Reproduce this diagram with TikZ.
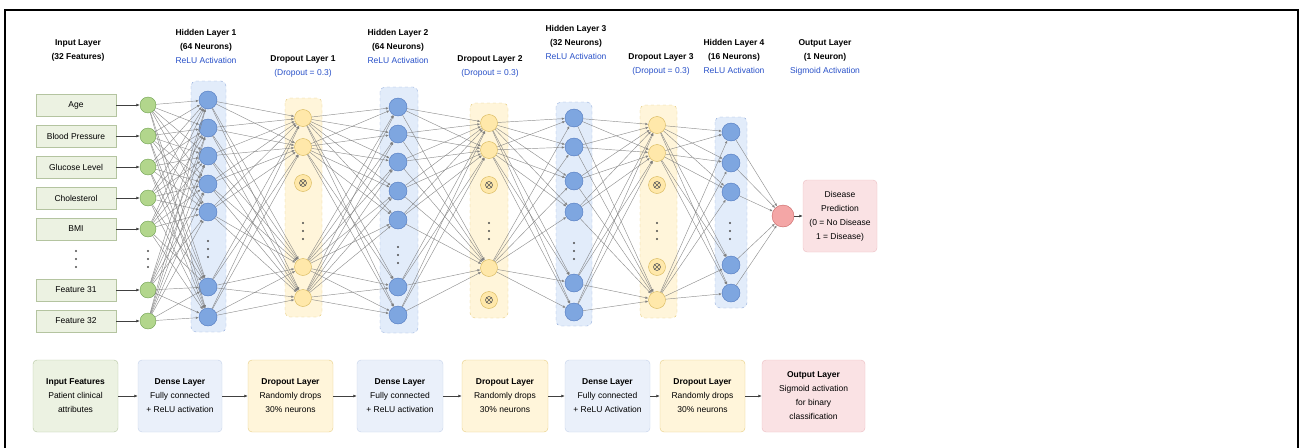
\documentclass[tikz,border=0pt]{standalone}
\usepackage{fontspec}
\setmainfont{Liberation Sans}
\usetikzlibrary{arrows.meta}
\definecolor{infill}{RGB}{236,242,226}
\definecolor{inedge}{RGB}{180,196,160}
\definecolor{gfill}{RGB}{178,214,140}
\definecolor{gedge}{RGB}{110,160,80}
\definecolor{bfill}{RGB}{126,166,224}
\definecolor{bedge}{RGB}{80,120,190}
\definecolor{bbg}{RGB}{226,236,250}
\definecolor{bbgedge}{RGB}{150,175,220}
\definecolor{yfill}{RGB}{255,232,170}
\definecolor{yedge}{RGB}{214,182,86}
\definecolor{ybg}{RGB}{255,245,218}
\definecolor{ybgedge}{RGB}{230,205,130}
\definecolor{pfill}{RGB}{244,166,166}
\definecolor{pedge}{RGB}{200,100,100}
\definecolor{pbox}{RGB}{250,226,228}
\definecolor{pboxedge}{RGB}{236,190,194}
\definecolor{dfill}{RGB}{234,240,250}
\definecolor{dedge}{RGB}{196,210,234}
\definecolor{actblue}{RGB}{40,80,200}
\definecolor{wire}{RGB}{125,125,125}
\newcommand{\colldots}[2]{\foreach \k in {-8,0,8} \fill[black!70] (#1,#2+\k) circle (1.2);}

\begin{document}
\begin{tikzpicture}[x=1pt,y=-1pt,font=\fontsize{8.5}{14}\selectfont]
		\useasboundingbox (0,0) rectangle (1303,447);
		\draw[line width=2pt] (5,470) -- (5,10) -- (1298,10) -- (1298,470);
		\tikzstyle{ftbox}=[draw=inedge,fill=infill,minimum width=80pt,minimum height=22pt,inner sep=0pt]
		\tikzstyle{gneuron}=[circle,draw=gedge,fill=gfill,minimum size=16pt,inner sep=0pt]
		\tikzstyle{bneuron}=[circle,draw=bedge,fill=bfill,minimum size=18pt,inner sep=0pt]
		\tikzstyle{yneuron}=[circle,draw=yedge,fill=yfill,minimum size=17pt,inner sep=0pt]
		\tikzstyle{yxneuron}=[yneuron,path picture={\draw[black!65,line width=0.6pt] (path picture bounding box.center) circle (3.5pt) +(-2.2pt,-2.2pt) -- +(2.2pt,2.2pt) +(-2.2pt,2.2pt) -- +(2.2pt,-2.2pt);}]
		\tikzstyle{hidbg}=[draw=bbgedge,fill=bbg,dashed,rounded corners=5pt]
		\tikzstyle{dropbg}=[draw=ybgedge,fill=ybg,dashed,rounded corners=5pt]
		\tikzstyle{wirearrow}=[draw=wire,line width=0.45pt,opacity=0.85,-{Latex[length=3pt,width=2.6pt]}]
		\tikzstyle{feedarrow}=[draw=black!75,line width=0.7pt,-{Latex[length=3.5pt,width=3pt]}]
		\tikzstyle{stagebox}=[rounded corners=4pt,minimum height=72pt,align=center,inner sep=0pt]
		% layer titles
		\node[align=center] (tl-in) at (78,50) {\textbf{Input Layer}\\\textbf{(32 Features)}};
		\node[align=center] (tl-ha) at (206,46) {\textbf{Hidden Layer 1}\\\textbf{(64 Neurons)}\\\textcolor{actblue}{ReLU Activation}};
		\node[align=center] (tl-da) at (303,66) {\textbf{Dropout Layer 1}\\\textcolor{actblue}{(Dropout = 0.3)}};
		\node[align=center] (tl-hb) at (398,46) {\textbf{Hidden Layer 2}\\\textbf{(64 Neurons)}\\\textcolor{actblue}{ReLU Activation}};
		\node[align=center] (tl-db) at (490,66) {\textbf{Dropout Layer 2}\\\textcolor{actblue}{(Dropout = 0.3)}};
		\node[align=center] (tl-hc) at (576,42) {\textbf{Hidden Layer 3}\\\textbf{(32 Neurons)}\\\textcolor{actblue}{ReLU Activation}};
		\node[align=center] (tl-dc) at (661,64) {\textbf{Dropout Layer 3}\\\textcolor{actblue}{(Dropout = 0.3)}};
		\node[align=center] (tl-hd) at (734,56) {\textbf{Hidden Layer 4}\\\textbf{(16 Neurons)}\\\textcolor{actblue}{ReLU Activation}};
		\node[align=center] (tl-o) at (825,57) {\textbf{Output Layer}\\\textbf{(1 Neuron)}\\\textcolor{actblue}{Sigmoid Activation}};
		% layer backgrounds
		\draw[hidbg] (191,81) rectangle (226,332);
		\draw[dropbg] (285,98) rectangle (322,317);
		\draw[hidbg] (380,87) rectangle (418,333);
		\draw[dropbg] (470,103) rectangle (508,318);
		\draw[hidbg] (556,102) rectangle (592,326);
		\draw[dropbg] (640,105) rectangle (677,318);
		\draw[hidbg] (715,117) rectangle (747,308);
		% input features
		\foreach \y/\t [count=\i] in {105/Age,136/Blood Pressure,167/Glucose Level,198/Cholesterol,229/BMI,290/Feature 31,321/Feature 32}{
			\node[ftbox] (in-\i) at (76,\y) {\t};
			\node[gneuron] (g-\i) at (148,\y) {};
			\draw[feedarrow] (in-\i) -- (g-\i);
		}
		% neurons
		\foreach \y [count=\i] in {100,128,156,184,212,287,317}
			\node[bneuron] (ha-\i) at (208,\y) {};
		\foreach \y/\s [count=\i] in {118/yneuron,147/yneuron,183/yxneuron,267/yneuron,298/yneuron}
			\node[\s] (da-\i) at (303,\y) {};
		\foreach \y [count=\i] in {107,134,162,191,220,287,315}
			\node[bneuron] (hb-\i) at (398,\y) {};
		\foreach \y/\s [count=\i] in {123/yneuron,150/yneuron,185/yxneuron,268/yneuron,300/yxneuron}
			\node[\s] (db-\i) at (489,\y) {};
		\foreach \y [count=\i] in {118,147,181,212,283,312}
			\node[bneuron] (hc-\i) at (574,\y) {};
		\foreach \y/\s [count=\i] in {125/yneuron,153/yneuron,185/yxneuron,267/yxneuron,300/yneuron}
			\node[\s] (dc-\i) at (657,\y) {};
		\foreach \y [count=\i] in {132,163,192,265,293}
			\node[bneuron] (hd-\i) at (731,\y) {};
		\node[circle,draw=pedge,fill=pfill,minimum size=22pt,inner sep=0pt] (o) at (783,216) {};
		\node[draw=pboxedge,fill=pbox,rounded corners=4pt,minimum width=74pt,minimum height=72pt,align=center,inner sep=0pt] (pred) at (840,216) {Disease\\Prediction\\(0 = No Disease\\1 = Disease)};
		% ellipses
		\colldots{76}{259}
		\colldots{148}{259}
		\colldots{208}{249}
		\colldots{303}{231}
		\colldots{398}{255}
		\colldots{489}{231}
		\colldots{574}{251}
		\colldots{657}{231}
		\colldots{730}{231}
		% connections
		\foreach \i in {1,...,7} \foreach \j in {1,...,7} \draw[wirearrow] (g-\i) -- (ha-\j);
		\foreach \i in {1,...,7} \foreach \j in {1,2,4,5} \draw[wirearrow] (ha-\i) -- (da-\j);
		\foreach \i in {1,2,4,5} \foreach \j in {1,...,7} \draw[wirearrow] (da-\i) -- (hb-\j);
		\foreach \i in {1,...,7} \foreach \j in {1,2,4} \draw[wirearrow] (hb-\i) -- (db-\j);
		\foreach \i in {1,2,4} \foreach \j in {1,...,6} \draw[wirearrow] (db-\i) -- (hc-\j);
		\foreach \i in {1,...,6} \foreach \j in {1,2,5} \draw[wirearrow] (hc-\i) -- (dc-\j);
		\foreach \i in {1,2,5} \foreach \j in {1,...,5} \draw[wirearrow] (dc-\i) -- (hd-\j);
		\foreach \i in {1,...,5} \draw[wirearrow] (hd-\i) -- (o);
		\draw[feedarrow] (o) -- (pred);
		% summary row
		\node[stagebox,draw=inedge,fill=infill,minimum width=85pt] (s1) at (75.5,396) {\textbf{Input Features}\\Patient clinical\\attributes};
		\node[stagebox,draw=dedge,fill=dfill,minimum width=84pt] (s2) at (180,396) {\textbf{Dense Layer}\\Fully connected\\+ ReLU activation};
		\node[stagebox,draw=ybgedge,fill=ybg,minimum width=85pt] (s3) at (290.5,396) {\textbf{Dropout Layer}\\Randomly drops\\30\% neurons};
		\node[stagebox,draw=dedge,fill=dfill,minimum width=86pt] (s4) at (400,396) {\textbf{Dense Layer}\\Fully connected\\+ ReLU activation};
		\node[stagebox,draw=ybgedge,fill=ybg,minimum width=86pt] (s5) at (505,396) {\textbf{Dropout Layer}\\Randomly drops\\30\% neurons};
		\node[stagebox,draw=dedge,fill=dfill,minimum width=85pt] (s6) at (607.5,396) {\textbf{Dense Layer}\\Fully connected\\+ ReLU Activation};
		\node[stagebox,draw=ybgedge,fill=ybg,minimum width=85pt] (s7) at (702.5,396) {\textbf{Dropout Layer}\\Randomly drops\\30\% neurons};
		\node[stagebox,draw=pboxedge,fill=pbox,minimum width=103pt] (s8) at (813.5,396) {\textbf{Output Layer}\\Sigmoid activation\\for binary\\classification};
		\foreach \a/\b in {s1/s2,s2/s3,s3/s4,s4/s5,s5/s6,s6/s7,s7/s8}
			\draw[feedarrow] (\a) -- (\b);
	\end{tikzpicture}
\end{document}
